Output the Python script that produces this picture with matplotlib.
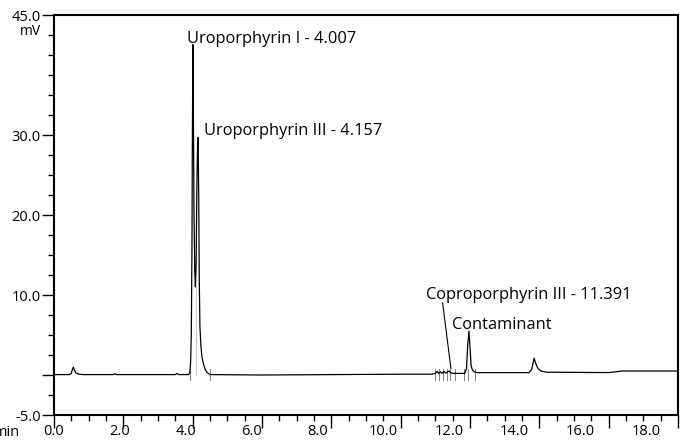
import matplotlib
matplotlib.use("Agg")
import matplotlib.pyplot as plt
from matplotlib.ticker import MultipleLocator, FixedLocator

# ---- data ----
time_min = [0.00, 0.30, 0.45, 0.50, 0.53, 0.56, 0.59, 0.63, 0.70, 0.85, 1.10,
            1.70, 1.75, 1.80, 3.50, 3.55, 3.60, 3.88,
            3.92, 3.94, 3.96, 3.98, 3.99, 4.007, 4.02, 4.04, 4.06, 4.08,
            4.10, 4.12, 4.14, 4.157, 4.175, 4.19, 4.21, 4.24, 4.27, 4.31,
            4.36, 4.42, 4.50, 6.00, 8.00, 10.00, 10.90,
            11.00, 11.05, 11.10, 11.15, 11.20, 11.25, 11.30, 11.39, 11.45,
            11.55, 11.85, 11.90, 11.93, 11.97, 12.00, 12.03, 12.07, 12.12,
            12.20, 13.70, 13.78, 13.85, 13.90, 13.96, 14.05, 14.20,
            16.00, 16.40, 18.00]
signal_mv = [0.05, 0.05, 0.05, 0.20, 0.70, 1.00, 0.60, 0.25, 0.12, 0.05, 0.05,
             0.05, 0.15, 0.05, 0.05, 0.20, 0.05, 0.05,
             0.30, 1.50, 5.00, 16.0, 28.0, 41.3, 33.0, 20.0, 13.0, 11.0,
             14.0, 23.0, 28.5, 29.7, 22.0, 12.0, 6.0, 3.5, 2.2, 1.4,
             0.7, 0.3, 0.05, 0.00, 0.05, 0.10, 0.10,
             0.20, 0.45, 0.20, 0.40, 0.20, 0.45, 0.25, 0.50, 0.25,
             0.20, 0.20, 0.80, 3.50, 5.50, 3.50, 1.20, 0.60, 0.40,
             0.30, 0.30, 0.70, 2.10, 1.40, 0.80, 0.50, 0.35,
             0.30, 0.50, 0.50]

# integration event markers (min)
marker_times = [3.92, 4.50, 10.98, 11.12, 11.22, 11.33, 11.43, 11.56, 11.83, 11.94, 12.15]
valley_time = 4.09
valley_mv = 11.0

peak_labels = ["Uroporphyrin I - 4.007", "Uroporphyrin III - 4.157",
               "Coproporphyrin III - 11.391", "Contaminant"]

x_major = [0, 2, 4, 6, 8, 10, 12, 14, 16, 18]
x_labels = ["0.0", "2.0", "4.0", "6.0", "8.0", "10.0", "12.0", "14.0", "16.0", "18.0"]
y_major = [-5, 0, 10, 20, 30, 45]
y_labels = ["-5.0", "", "10.0", "20.0", "30.0", "45.0"]

FONT = ["Open Sans", "DejaVu Sans"]
plt.rcParams["font.family"] = FONT

fig = plt.figure(figsize=(6.87, 4.40), dpi=100)
ax = fig.add_axes([54 / 687, 25 / 440, 624 / 687, 400 / 440])

ax.plot(time_min, signal_mv, color="black", lw=0.9, zorder=3)

# event markers
for t in marker_times:
    ax.plot([t, t], [-0.6, 0.7], color="#808080", lw=0.7, zorder=2)
ax.plot([valley_time, valley_time], [0.0, valley_mv], color="#c8c8c8", lw=0.7, zorder=2)

ax.set_xlim(0, 18)
ax.set_ylim(-5, 45)

ax.xaxis.set_major_locator(FixedLocator(x_major))
ax.xaxis.set_minor_locator(MultipleLocator(0.5))
ax.yaxis.set_major_locator(FixedLocator(y_major))
ax.yaxis.set_minor_locator(MultipleLocator(2.5))
ax.set_yticklabels(y_labels)
ax.tick_params(axis="x", which="both", labelbottom=False)
ax.tick_params(which="major", length=9, width=1.0, direction="out", color="black")
ax.tick_params(which="minor", length=4, width=1.0, direction="out", color="black")
ax.tick_params(axis="y", labelsize=10.5, pad=0.5)
for s in ax.spines.values():
    s.set_linewidth(1.5)
    s.set_color("black")

# x tick labels drawn on a slightly compressed label scale, as in the original
ax2 = ax.twiny()
ax2.set_xlim(0, 18 * 34.67 / 32.9)
ax2.xaxis.tick_bottom()
ax2.set_xticks(x_major)
ax2.set_xticklabels(x_labels)
ax2.tick_params(axis="x", length=0, pad=6.5, labelsize=10.5)
for s in ax2.spines.values():
    s.set_visible(False)

# peak annotations
fs = 11.8
ax.text(3.84, 41.5, peak_labels[0], fontsize=fs, va="baseline", ha="left")
ax.text(4.33, 30.0, peak_labels[1], fontsize=fs, va="baseline", ha="left")
ax.text(10.74, 9.5, peak_labels[2], fontsize=fs, va="baseline", ha="left")
ax.text(11.49, 5.8, peak_labels[3], fontsize=fs, va="baseline", ha="left")
ax.plot([11.21, 11.45], [9.0, 0.8], color="black", lw=0.8, zorder=4)

# axis unit labels
fig.text(20 / 687, 1 - 35 / 440, "mV", fontsize=10, va="baseline", ha="left")
fig.text(-6 / 687, 4 / 440, "min", fontsize=10.5, va="baseline", ha="left")

fig.savefig("out.png", dpi=100)
